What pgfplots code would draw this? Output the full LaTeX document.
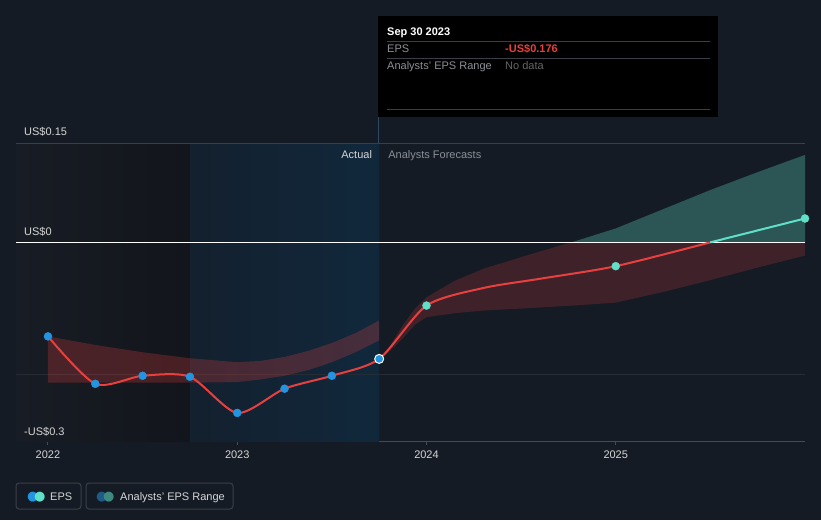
\documentclass[border=0pt]{standalone}
\usepackage{pgfplots}
\pgfplotsset{compat=1.18}
\usepackage{fontspec}
\setmainfont{Liberation Sans}
\newfontfamily\dejavu{DejaVu Sans}
\definecolor{bg}{HTML}{151B24}
\definecolor{epsred}{HTML}{E8403F}
\definecolor{epsblue}{HTML}{2394DF}
\definecolor{epsteal}{HTML}{5FE1C9}
\definecolor{rngblue}{HTML}{1D5C86}
\definecolor{rngteal}{HTML}{3E8A80}
\definecolor{gridc}{HTML}{3A3F47}
\definecolor{gridf}{HTML}{262C35}
\definecolor{axisc}{HTML}{474C54}
\definecolor{lab}{HTML}{D6D6D6}
\definecolor{dimlab}{HTML}{8C9096}
\definecolor{darkL}{HTML}{181C24}
\definecolor{darkR}{HTML}{12151B}
\definecolor{blueL}{HTML}{13202E}
\definecolor{blueR}{HTML}{11283C}
\definecolor{vline}{HTML}{2B4A62}
\begin{document}
\begin{tikzpicture}[x=1pt,y=1pt]
\fill[bg] (0,0) rectangle (821,520);
% x = years after 2022 (0 = 2022, 1 = 2023, ...)
\begin{axis}[
  at={(16pt,79pt)}, anchor=south west,
  scale only axis, width=789pt, height=298pt,
  xmin=-0.169, xmax=4.0, ymin=-0.3, ymax=0.15,
  clip=false,
  axis x line*=bottom, axis y line=none,
  x axis line style={draw=axisc, line width=1pt, -},
  xtick={0,1,2,3},
  xticklabels={2022,2023,2024,2025},
  xtick style={draw=axisc, line width=1pt},
  tick align=outside, major tick length=4pt,
  xticklabel style={font=\fontsize{11}{13}\selectfont, text=lab, yshift=-2pt},
  /pgf/number format/assume math mode=true,
]
% background regions
\fill[left color=darkL, right color=darkR] (axis cs:-0.169,-0.3) rectangle (axis cs:0.75,0.15);
\fill[left color=blueL, right color=blueR] (axis cs:0.75,-0.3) rectangle (axis cs:1.75,0.15);
% gridlines
\draw[gridc, line width=1pt] (axis cs:-0.169,0.15) -- (axis cs:4,0.15);
\draw[gridf, line width=1pt] (axis cs:-0.169,-0.2) -- (axis cs:4,-0.2);
% past range band (upper edge, then lower edge back)
\addplot[fill=epsred, fill opacity=0.25, draw=none] coordinates {
 (0.0,-0.142) (0.25,-0.155) (0.5,-0.166) (0.75,-0.175) (1.0,-0.181) (1.125,-0.179)
 (1.25,-0.173) (1.375,-0.164) (1.5,-0.152) (1.625,-0.137) (1.75,-0.118)
 (1.75,-0.148) (1.625,-0.166) (1.5,-0.181) (1.375,-0.193) (1.25,-0.2015) (1.125,-0.207)
 (1.0,-0.211) (0.75,-0.212) (0.5,-0.212) (0.25,-0.212) (0.0,-0.212)} -- cycle;
% forecast range band: red part below zero, teal part above zero
\begin{scope}
\clip (axis cs:1.7,-0.3) rectangle (axis cs:4.05,0);
\addplot[fill=epsred, fill opacity=0.2, draw=none] coordinates {
 (1.75,-0.176) (1.8,-0.160) (1.875,-0.125) (1.94,-0.100) (2.0,-0.083) (2.15,-0.058)
 (2.3,-0.040) (2.55,-0.018) (2.8,0.003) (3.0,0.021) (3.25,0.050) (3.5,0.079) (3.75,0.106) (4.0,0.132)
 (4.0,-0.020) (3.75,-0.038) (3.5,-0.057) (3.25,-0.075) (3.0,-0.091) (2.8,-0.095) (2.5,-0.100)
 (2.3,-0.103) (2.15,-0.107) (2.0,-0.113) (1.94,-0.124) (1.875,-0.145) (1.8,-0.166) (1.75,-0.176)} -- cycle;
\end{scope}
\begin{scope}
\clip (axis cs:1.7,0) rectangle (axis cs:4.05,0.15);
\addplot[fill=epsteal, fill opacity=0.3, draw=none] coordinates {
 (1.75,-0.176) (1.8,-0.160) (1.875,-0.125) (1.94,-0.100) (2.0,-0.083) (2.15,-0.058)
 (2.3,-0.040) (2.55,-0.018) (2.8,0.003) (3.0,0.021) (3.25,0.050) (3.5,0.079) (3.75,0.106) (4.0,0.132)
 (4.0,-0.020) (3.75,-0.038) (3.5,-0.057) (3.25,-0.075) (3.0,-0.091) (2.8,-0.095) (2.5,-0.100)
 (2.3,-0.103) (2.15,-0.107) (2.0,-0.113) (1.94,-0.124) (1.875,-0.145) (1.8,-0.166) (1.75,-0.176)} -- cycle;
\end{scope}
% zero line
\draw[white, line width=1pt] (axis cs:-0.169,0) -- (axis cs:4,0);
% EPS line
\addplot[epsred, line width=2pt, smooth, tension=0.45] coordinates {
 (0.0,-0.142) (0.25,-0.2136) (0.5,-0.2015) (0.75,-0.203) (1.0,-0.2576)
 (1.25,-0.221) (1.5,-0.2015) (1.75,-0.176) (2.0,-0.0955) (2.3,-0.069) (2.6,-0.055) (3.0,-0.036) (3.5,0.0)};
\addplot[epsteal, line width=2pt] coordinates {(3.5,0.0) (4.0,0.036)};
% markers
\addplot[only marks, mark=*, mark size=4pt, mark options={fill=epsblue, draw=epsblue}] coordinates {
 (0.0,-0.142) (0.25,-0.2136) (0.5,-0.2015) (0.75,-0.203) (1.0,-0.2576)
 (1.25,-0.221) (1.5,-0.2015)};
\addplot[only marks, mark=*, mark size=4.5pt, mark options={fill=epsblue, draw=white, line width=1pt}] coordinates {(1.75,-0.176)};
\addplot[only marks, mark=*, mark size=4pt, mark options={fill=epsteal, draw=epsteal}] coordinates {
 (2.0,-0.0955) (3.0,-0.036) (4.0,0.036)};
% labels
\node[anchor=base west, inner sep=0pt, text=lab, font=\fontsize{11}{13}\selectfont] at (axis cs:-0.169,0.15) [xshift=8pt, yshift=8pt] {US\$0.15};
\node[anchor=base west, inner sep=0pt, text=lab, font=\fontsize{11}{13}\selectfont] at (axis cs:-0.169,0) [xshift=8pt, yshift=7pt] {US\$0};
\node[anchor=base west, inner sep=0pt, text=lab, font=\fontsize{11}{13}\selectfont] at (axis cs:-0.169,-0.3) [xshift=8pt, yshift=6pt] {-US\$0.3};
\node[anchor=base east, inner sep=0pt, text=lab, font=\fontsize{11}{13}\selectfont] at (axis cs:1.75,0.15) [xshift=-7pt, yshift=-15pt] {Actual};
\node[anchor=base west, inner sep=0pt, text=dimlab, font=\fontsize{11}{13}\selectfont] at (axis cs:1.75,0.15) [xshift=9pt, yshift=-15pt] {Analysts Forecasts};
\end{axis}
% tooltip
\fill[black] (378,403) rectangle (718,504);
\draw[vline, line width=1pt] (378,403) -- (378,377);
\node[anchor=base west, inner sep=0pt, text=white, font=\bfseries\fontsize{11}{13}\selectfont] at (387,484) {Sep 30 2023};
\draw[gridc, line width=0.8pt] (387,479) -- (710,479);
\node[anchor=base west, inner sep=0pt, text=dimlab, font=\fontsize{11}{13}\selectfont] at (387,467) {EPS};
\node[anchor=base west, inner sep=0pt, text=epsred, font=\bfseries\fontsize{11}{13}\selectfont] at (505,467) {-US\$0.176};
\draw[gridc, line width=0.8pt] (387,462) -- (710,462);
\node[anchor=base west, inner sep=0pt, text=dimlab, font=\fontsize{11}{13}\selectfont] at (387,450) {Analysts' EPS Range};
\node[anchor=base west, inner sep=0pt, text=gray!80!black, font=\fontsize{11}{13}\selectfont] at (505,450) {No data};
\draw[gridc, line width=0.8pt] (387,411) -- (710,411);
% legend
\draw[gridc, line width=1pt, rounded corners=3pt] (16,11) rectangle (81,37);
\draw[gridc, line width=1pt, rounded corners=3pt] (86,11) rectangle (233,37);
\node[anchor=base west, inner sep=0pt, font=\dejavu\fontsize{13}{13}\selectfont] at (27,20) {\textcolor{epsblue}{●}\kern-4.5pt\textcolor{epsteal}{●}};
\node[anchor=base west, inner sep=0pt, text=lab, font=\fontsize{11}{13}\selectfont] at (50,20) {EPS};
\node[anchor=base west, inner sep=0pt, font=\dejavu\fontsize{13}{13}\selectfont] at (96,20) {\textcolor{rngblue}{●}\kern-4.5pt\textcolor{rngteal}{●}};
\node[anchor=base west, inner sep=0pt, text=lab, font=\fontsize{11}{13}\selectfont] at (120,20) {Analysts' EPS Range};
\end{tikzpicture}
\end{document}
